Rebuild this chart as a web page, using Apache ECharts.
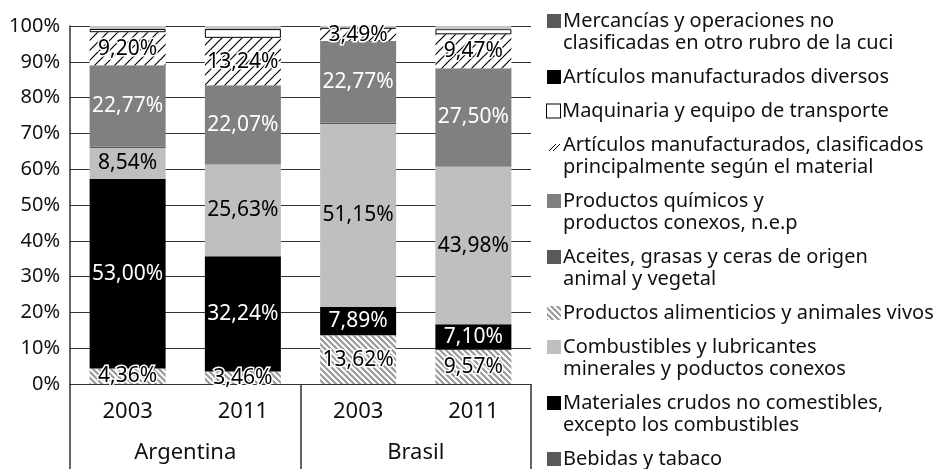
<!DOCTYPE html>
<html>
<head>
<meta charset="utf-8">
<script src="https://cdn.jsdelivr.net/npm/echarts@6/dist/echarts.min.js"></script>
<style>
html,body{margin:0;padding:0;background:#fff;}
#chart{width:933px;height:469px;}
</style>
</head>
<body>
<div id="chart"></div>
<script>
// ---- data ----
const categories = ['2003', '2011', '2003', '2011'];
const groups = ['Argentina', 'Brasil'];
const yTicks = [0, 10, 20, 30, 40, 50, 60, 70, 80, 90, 100];

const bebidas      = [0, 0, 0, 0];
const alimenticios = [4.36, 3.46, 13.62, 9.57];
const crudos       = [53.00, 32.24, 7.89, 7.10];
const combustibles = [8.54, 25.63, 51.15, 43.98];
const aceites      = [0.40, 0.05, 0.40, 0.05];
const quimicos     = [22.77, 22.07, 22.77, 27.50];
const clasificados = [9.20, 13.24, 3.49, 9.47];
const maquinaria   = [0.90, 2.45, 0.20, 1.45];
const diversos     = [0, 0, 0, 0];
const mercancias   = [0.83, 0.86, 0.48, 0.88];

const names = {
  mercancias: 'Mercancías y operaciones no\nclasificadas en otro rubro de la cuci',
  diversos: 'Artículos manufacturados diversos',
  maquinaria: 'Maquinaria y equipo de transporte',
  clasificados: 'Artículos manufacturados, clasificados\nprincipalmente según el material',
  quimicos: 'Productos químicos y\nproductos conexos, n.e.p',
  aceites: 'Aceites, grasas y ceras de origen\nanimal y vegetal',
  alimenticios: 'Productos alimenticios y animales vivos',
  combustibles: 'Combustibles y lubricantes\nminerales y poductos conexos',
  crudos: 'Materiales crudos no comestibles,\nexcepto los combustibles',
  bebidas: 'Bebidas y tabaco'
};

// ---- patterns ----
function hatchForward(w, h) {
  const c = document.createElement('canvas');
  c.width = w; c.height = h;
  const g = c.getContext('2d');
  g.fillStyle = '#fff'; g.fillRect(0, 0, w, h);
  g.strokeStyle = '#000'; g.lineWidth = 1.2;
  g.beginPath();
  g.moveTo(-2, 12); g.lineTo(12, -2);
  g.moveTo(-2, 2); g.lineTo(2, -2);
  g.moveTo(8, 12); g.lineTo(12, 8);
  g.stroke();
  return c;
}
function hatchForwardIcon() {
  const c = document.createElement('canvas');
  c.width = 14; c.height = 14;
  const g = c.getContext('2d');
  g.fillStyle = '#fff'; g.fillRect(0, 0, 14, 14);
  g.strokeStyle = '#000'; g.lineWidth = 1;
  g.beginPath();
  g.moveTo(2, 13); g.lineTo(9, 6);
  g.moveTo(6, 13); g.lineTo(13, 6);
  g.stroke();
  return c;
}
function hatchBack(size) {
  const c = document.createElement('canvas');
  c.width = size; c.height = size;
  const g = c.getContext('2d');
  g.fillStyle = '#fff'; g.fillRect(0, 0, size, size);
  g.strokeStyle = '#9a9a9a'; g.lineWidth = 2.2;
  g.beginPath();
  for (let k = -size; k <= size * 2; k += 6) {
    g.moveTo(k - 1, -1); g.lineTo(k + size + 1, size + 1);
  }
  g.stroke();
  return c;
}
const patFwd = { image: hatchForward(10, 10), repeat: 'repeat' };
const patBack = { image: hatchBack(6), repeat: 'repeat' };

const FONT = 'Noto Sans';
const fmt = p => p.value.toFixed(2).replace('.', ',') + '%';

function mk(name, data, color, label, extra) {
  return {
    name: name, type: 'bar', stack: 'total', data: data,
    barWidth: 76,
    itemStyle: Object.assign({ color: color }, extra || {}),
    label: label ? Object.assign({
      show: true, position: 'inside', formatter: fmt,
      fontFamily: FONT, fontSize: 21
    }, label) : { show: false },
    emphasis: { disabled: true }
  };
}

const series = [
  mk(names.alimenticios, alimenticios, patBack, { color: '#000', textBorderColor: '#fff', textBorderWidth: 3 }),
  mk(names.bebidas, bebidas, '#595959'),
  mk(names.crudos, crudos, '#000', { color: '#fff' }),
  mk(names.combustibles, combustibles, '#bfbfbf', { color: '#000' }),
  mk(names.aceites, aceites, '#595959'),
  mk(names.quimicos, quimicos, '#808080', { color: '#fff' }),
  mk(names.clasificados, clasificados, patFwd, { color: '#000', textBorderColor: '#fff', textBorderWidth: 3 }),
  mk(names.maquinaria, maquinaria, '#fff', null, { borderColor: '#000', borderWidth: 1 }),
  mk(names.diversos, diversos, '#000'),
  mk(names.mercancias, mercancias, '#c4c4c4')
];

// legend order (top to bottom) and icon style key
const legendOrder = [
  [names.mercancias, 'k0'],
  [names.diversos, 'k1'],
  [names.maquinaria, 'k2'],
  [names.clasificados, 'k3'],
  [names.quimicos, 'k4'],
  [names.aceites, 'k5'],
  [names.alimenticios, 'k6'],
  [names.combustibles, 'k7'],
  [names.crudos, 'k8'],
  [names.bebidas, 'k9']
];
const box = (bg, more) => Object.assign({ width: 14, height: 14, lineHeight: 22, backgroundColor: bg }, more || {});
const rich = {
  t: { fontFamily: FONT, fontSize: 20, lineHeight: 22, color: '#111' },
  g: { width: 2, lineHeight: 22 },
  sp: { width: 16, lineHeight: 22 },
  k0: box('#595959'),
  k1: box('#000'),
  k2: box('#fff', { borderColor: '#000', borderWidth: 1, width: 13, height: 13 }),
  k3: box({ image: hatchForwardIcon() }),
  k4: box('#808080'),
  k5: box('#595959'),
  k6: box({ image: hatchBack(14) }),
  k7: box('#bfbfbf'),
  k8: box('#000'),
  k9: box('#595959')
};
const keyOf = {};
legendOrder.forEach(([n, k]) => { keyOf[n] = k; });

const chart = echarts.init(document.getElementById('chart'), null, { renderer: 'canvas' });
chart.setOption({
  animation: false,
  backgroundColor: '#fff',
  textStyle: { fontFamily: FONT },
  grid: { left: 70, right: 402, top: 26, bottom: 85, containLabel: false },
  legend: {
    orient: 'vertical', left: 542, top: 10, bottom: 0, padding: 0,
    itemWidth: 0, itemHeight: 0, itemGap: 12,
    icon: 'none',
    data: legendOrder.map(d => d[0]),
    selectedMode: false,
    formatter: function (name) {
      const lines = name.split('\n');
      return lines.map((ln, i) => (i === 0 ? '{' + keyOf[name] + '|}{g|}' : '{sp|}') + '{t|' + ln + '}').join('\n');
    },
    textStyle: { fontFamily: FONT, fontSize: 20, lineHeight: 22, color: '#111', rich: rich }
  },
  xAxis: [
    {
      type: 'category', data: categories, gridIndex: 0, position: 'bottom',
      axisLine: { show: true, lineStyle: { color: '#333', width: 1.2 } },
      axisTick: { show: true, length: 85, interval: (i) => i === 0 || i === 2, lineStyle: { color: '#333', width: 1.5 } },
      axisLabel: { fontFamily: FONT, fontSize: 22, color: '#111', margin: 17 },
      splitLine: { show: false }
    },
    {
      type: 'category', data: groups, gridIndex: 0, position: 'bottom',
      axisLine: { show: false }, axisTick: { show: false },
      axisLabel: { fontFamily: FONT, fontSize: 22, color: '#111', margin: 58 },
      splitLine: { show: false }
    }
  ],
  yAxis: {
    type: 'value', min: yTicks[0], max: yTicks[yTicks.length - 1], interval: 10,
    axisLine: { show: true, lineStyle: { color: '#333', width: 1.5 } },
    axisTick: { show: false },
    axisLabel: { fontFamily: FONT, fontSize: 20, color: '#111', margin: 10, formatter: '{value}%' },
    splitLine: { show: true, lineStyle: { color: '#333', width: 1.2 } }
  },
  series: series
});
</script>
</body>
</html>
